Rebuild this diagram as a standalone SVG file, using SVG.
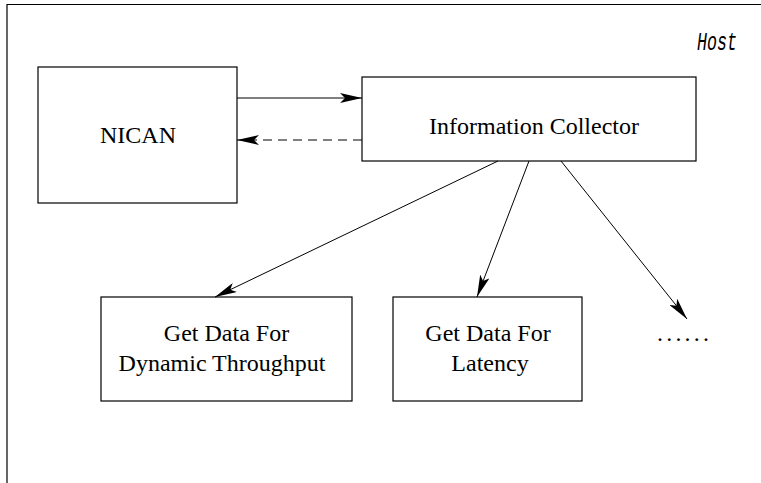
<svg xmlns="http://www.w3.org/2000/svg" width="761" height="483" viewBox="0 0 761 483">
  <style>
    .box { fill: #fff; stroke: #000; stroke-width: 1.2; }
    .frame { fill: none; stroke: #000; stroke-width: 1.2; }
    .conn { fill: none; stroke: #000; stroke-width: 1; }
    .dash { stroke-dasharray: 9 6; }
    .lbl { font-family: "Liberation Serif", "Times New Roman", serif; font-size: 24px; fill: #000; text-anchor: middle; }
    .host { font-family: "Liberation Mono", "Courier New", monospace; font-style: italic; font-size: 25px; fill: #000; }
  </style>
  <defs>
    <marker id="head" viewBox="0 0 22 10" refX="22" refY="5" markerWidth="22" markerHeight="10" markerUnits="userSpaceOnUse" orient="auto">
      <path d="M0,0 L22,5 L0,10 L5,5 Z" fill="#000"/>
    </marker>
  </defs>

  <!-- host enclosure -->
  <path class="frame" d="M770,4.5 H7 V495"/>
  <text class="host" x="697" y="50" textLength="40" lengthAdjust="spacingAndGlyphs">Host</text>

  <g id="nican">
    <rect class="box" x="38" y="67" width="199" height="136"/>
    <text class="lbl" x="138" y="143">NICAN</text>
  </g>

  <g id="collector">
    <rect class="box" x="362" y="77" width="334" height="84"/>
    <text class="lbl" x="534" y="134">Information Collector</text>
  </g>

  <g id="throughput">
    <rect class="box" x="101" y="297" width="251" height="104"/>
    <text class="lbl" x="226.5" y="341">Get Data For</text>
    <text class="lbl" x="222" y="371">Dynamic Throughput</text>
  </g>

  <g id="latency">
    <rect class="box" x="393" y="297" width="189" height="104"/>
    <text class="lbl" x="488" y="341">Get Data For</text>
    <text class="lbl" x="490" y="371">Latency</text>
  </g>

  <g id="more">
    <text class="lbl" x="683" y="341" textLength="52" lengthAdjust="spacing">......</text>
  </g>

  <g id="connectors">
    <line class="conn" x1="237" y1="98" x2="362" y2="98" marker-end="url(#head)"/>
    <line class="conn dash" x1="362" y1="140" x2="237" y2="140" marker-end="url(#head)"/>
    <line class="conn" x1="498" y1="161" x2="215" y2="297" marker-end="url(#head)"/>
    <line class="conn" x1="529" y1="161" x2="477" y2="297" marker-end="url(#head)"/>
    <line class="conn" x1="561" y1="161" x2="687" y2="319" marker-end="url(#head)"/>
  </g>
</svg>
